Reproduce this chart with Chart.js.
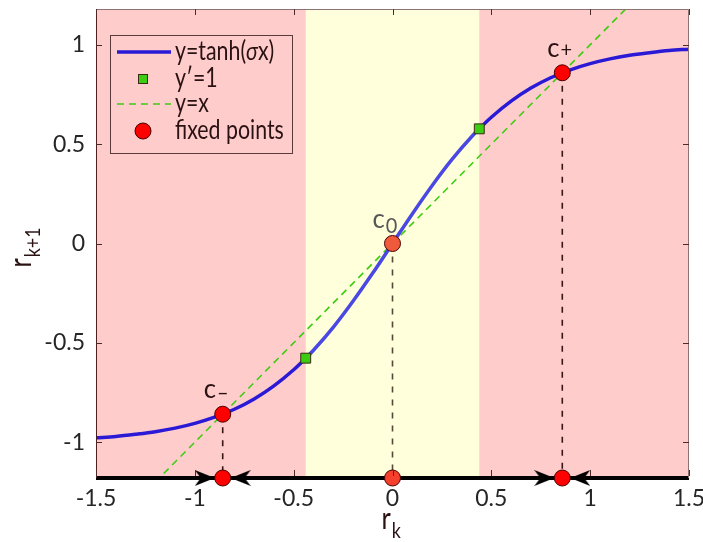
<!DOCTYPE html>
<html>
<head>
<meta charset="utf-8">
<script src="https://cdn.jsdelivr.net/npm/chart.js@4.4.0/dist/chart.umd.min.js"></script>
<style>
  html, body { margin: 0; padding: 0; background: #fff; }
</style>
</head>
<body>
<canvas id="mapChart" width="703" height="542"></canvas>
<script>
// values
const curveX = [-1.5, -1.4, -1.3, -1.2, -1.1, -1.0, -0.9, -0.8, -0.7, -0.6, -0.5, -0.439, -0.4, -0.3, -0.2, -0.1,
  0, 0.1, 0.2, 0.3, 0.4, 0.439, 0.5, 0.6, 0.7, 0.8, 0.9, 1.0, 1.1, 1.2, 1.3, 1.4, 1.5];
const curveY = [-0.978, -0.971, -0.960, -0.947, -0.929, -0.905, -0.874, -0.834, -0.782, -0.716, -0.635, -0.577,
  -0.537, -0.422, -0.291, -0.149, 0, 0.149, 0.291, 0.422, 0.537, 0.577, 0.635, 0.716, 0.782, 0.834, 0.874,
  0.905, 0.929, 0.947, 0.960, 0.971, 0.978];
const slopeX = [-0.439, 0.439];
const slopeY = [-0.577, 0.577];
const identityX = [-1.5, 1.5];
const identityY = [-1.5, 1.5];
const fixedX = [-0.859, 0, 0.859];
const fixedY = [-0.859, 0, 0.859];
const fixedNames = ["–", "0", "+"];
const arrowRightX = [-0.95, 0.768];
const arrowLeftX = [-0.768, 0.95];
const stableEdges = [-0.439, 0.439];
const xTicks = [-1.5, -1, -0.5, 0, 0.5, 1, 1.5];
const yTicks = [-1, -0.5, 0, 0.5, 1];
const yMin = -1.18, yMax = 1.18;

const FONT = "Lato, 'Open Sans', sans-serif";
const TEXT = "#2a1212";
const RED = "#ff0000";
const MIDRED = "#f05a3c";
const GREEN = "#3ccc10";
const BLUE = "#2a1ad6";
const MIDBLUE = "#4a48e2";

Chart.defaults.font.family = FONT;

function pts(xv, yv) {
  return xv.map((x, i) => ({ x: x, y: Array.isArray(yv) ? yv[i] : yv }));
}

function inBand(x) {
  return x >= stableEdges[0] - 1e-6 && x <= stableEdges[1] + 1e-6;
}

// concave arrow head, pointing right
const arrowImg = document.createElement("canvas");
arrowImg.width = 20;
arrowImg.height = 16;
(function () {
  const g = arrowImg.getContext("2d");
  g.fillStyle = "#000";
  g.beginPath();
  g.moveTo(20, 8);
  g.lineTo(0, 0);
  g.lineTo(6, 8);
  g.lineTo(0, 16);
  g.closePath();
  g.fill();
})();

const datasets = [];
fixedX.forEach((x, i) => {
  datasets.push({
    label: "guide" + i,
    data: [{ x: x, y: fixedY[i] }, { x: x, y: yMin }],
    showLine: true,
    borderColor: inBand(x) ? "#55483a" : "#3a1515",
    borderWidth: 1.6,
    borderDash: [6, 7],
    pointRadius: 0,
    order: 9,
  });
});
datasets.push(
  {
    label: "y=x",
    data: pts(identityX, identityY),
    showLine: true,
    borderColor: GREEN,
    borderWidth: 1.6,
    borderDash: [7, 5],
    pointRadius: 0,
    order: 8,
  },
  {
    label: "y=tanh(σx)",
    data: pts(curveX, curveY),
    showLine: true,
    borderColor: BLUE,
    borderWidth: 3.5,
    cubicInterpolationMode: "monotone",
    pointRadius: 0,
    segment: {
      borderColor: c => (inBand(c.p0.parsed.x) && inBand(c.p1.parsed.x) ? MIDBLUE : BLUE),
    },
    order: 7,
  },
  {
    label: "y′=1",
    data: pts(slopeX, slopeY),
    pointStyle: "rect",
    pointRadius: 7,
    backgroundColor: GREEN,
    borderColor: "#3a2a1a",
    borderWidth: 1,
    order: 6,
  },
  {
    label: "axis",
    data: pts(identityX, yMin),
    showLine: true,
    borderColor: "#000",
    borderWidth: 4,
    pointRadius: 0,
    clip: false,
    order: 5,
  },
  {
    label: "arrowsRight",
    data: pts(arrowRightX, yMin),
    pointStyle: arrowImg,
    pointRotation: 0,
    clip: false,
    order: 4,
  },
  {
    label: "arrowsLeft",
    data: pts(arrowLeftX, yMin),
    pointStyle: arrowImg,
    pointRotation: 180,
    clip: false,
    order: 4,
  },
  {
    label: "fixedBottom",
    data: pts(fixedX, yMin),
    pointRadius: 8,
    backgroundColor: fixedX.map(x => (inBand(x) ? "#f5402e" : RED)),
    borderColor: "#4a0000",
    borderWidth: 1,
    clip: false,
    order: 3,
  },
  {
    label: "fixed points",
    data: pts(fixedX, fixedY),
    pointRadius: 8,
    backgroundColor: fixedX.map(x => (inBand(x) ? MIDRED : RED)),
    borderColor: "#4a0000",
    borderWidth: 1,
    order: 2,
  }
);

// narrow text: the figure uses a condensed face
function txt(ctx, s, x, y, font, sx) {
  ctx.save();
  ctx.font = font;
  ctx.translate(x, y);
  ctx.scale(sx, 1);
  ctx.fillText(s, 0, 0);
  const w = ctx.measureText(s).width * sx;
  ctx.restore();
  return w;
}

function drawSub(ctx, main, sub, x, y, mainSize, subSize, drop, color, sx) {
  ctx.fillStyle = color;
  ctx.textAlign = "left";
  ctx.textBaseline = "alphabetic";
  const w = txt(ctx, main, x, y, mainSize + "px " + FONT, sx);
  txt(ctx, sub, x + w + 1, y + drop, subSize + "px " + FONT, sx);
}

const regionsPlugin = {
  id: "regions",
  beforeDatasetsDraw(chart) {
    const { ctx, chartArea: a, scales: { x } } = chart;
    ctx.save();
    ctx.fillStyle = "#ffcccc";
    ctx.fillRect(a.left, a.top, a.right - a.left, a.bottom - a.top);
    const l = x.getPixelForValue(stableEdges[0]);
    const r = x.getPixelForValue(stableEdges[1]);
    ctx.fillStyle = "#ffffdc";
    ctx.fillRect(l, a.top, r - l, a.bottom - a.top);
    ctx.restore();
  },
  afterDatasetsDraw(chart) {
    const { ctx, chartArea: a, scales: { x, y } } = chart;
    ctx.save();

    // fixed point names
    const offs = [[-19, -16, 2], [-20, -16, 5], [-15, -16, 0]];
    fixedX.forEach((fx, i) => {
      const px = x.getPixelForValue(fx) + offs[i][0];
      const py = y.getPixelForValue(fixedY[i]) + offs[i][1];
      drawSub(ctx, "c", fixedNames[i], px, py, 27, 21, offs[i][2], i === 1 ? "#575757" : TEXT, 0.95);
    });

    // frame
    ctx.lineWidth = 1;
    ctx.strokeStyle = "#8c7272";
    ctx.beginPath();
    ctx.moveTo(a.left, a.top + 0.5);
    ctx.lineTo(a.right - 0.5, a.top + 0.5);
    ctx.lineTo(a.right - 0.5, a.bottom);
    ctx.stroke();
    ctx.strokeStyle = "#4d1f1f";
    ctx.beginPath();
    ctx.moveTo(a.left + 0.5, a.top);
    ctx.lineTo(a.left + 0.5, a.bottom);
    ctx.stroke();

    // inner ticks
    ctx.strokeStyle = "#4d2a2a";
    ctx.beginPath();
    yTicks.forEach(v => {
      const py = Math.round(y.getPixelForValue(v)) + 0.5;
      ctx.moveTo(a.left, py); ctx.lineTo(a.left + 6, py);
      ctx.moveTo(a.right, py); ctx.lineTo(a.right - 6, py);
    });
    xTicks.forEach(v => {
      const px = Math.round(x.getPixelForValue(v)) + 0.5;
      ctx.moveTo(px, a.top); ctx.lineTo(px, a.top + 6);
      ctx.moveTo(px, a.bottom - 2); ctx.lineTo(px, a.bottom - 8);
    });
    ctx.stroke();

    // legend
    const lx = a.left + 14, ly = a.top + 26;
    ctx.fillStyle = "#ffcccc";
    ctx.fillRect(lx, ly, 182, 118);
    ctx.strokeStyle = "#5a3a3a";
    ctx.strokeRect(lx + 0.5, ly + 0.5, 182, 118);
    const rows = [ly + 17, ly + 44, ly + 69, ly + 96];
    ctx.lineWidth = 3.5;
    ctx.strokeStyle = BLUE;
    ctx.beginPath(); ctx.moveTo(lx + 7, rows[0]); ctx.lineTo(lx + 61, rows[0]); ctx.stroke();
    ctx.lineWidth = 1;
    ctx.fillStyle = GREEN;
    ctx.strokeStyle = "#3a2a1a";
    ctx.fillRect(lx + 28.5, rows[1] - 4.5, 9, 9);
    ctx.strokeRect(lx + 28.5, rows[1] - 4.5, 9, 9);
    ctx.lineWidth = 1.6;
    ctx.strokeStyle = GREEN;
    ctx.setLineDash([7, 5]);
    ctx.beginPath(); ctx.moveTo(lx + 7, rows[2]); ctx.lineTo(lx + 61, rows[2]); ctx.stroke();
    ctx.setLineDash([]);
    ctx.lineWidth = 1;
    ctx.fillStyle = RED;
    ctx.strokeStyle = "#4a0000";
    ctx.beginPath(); ctx.arc(lx + 33, rows[3], 8, 0, Math.PI * 2); ctx.fill(); ctx.stroke();

    ctx.fillStyle = TEXT;
    ctx.textBaseline = "middle";
    ctx.textAlign = "left";
    const F = "26px " + FONT, SX = 0.82;
    const tx = lx + 65;
    let w = txt(ctx, "y=tanh(", tx, rows[0], F, SX);
    w += txt(ctx, "σ", tx + w, rows[0], "italic " + F, SX);
    txt(ctx, "x)", tx + w, rows[0], F, SX);
    txt(ctx, "y′=1", tx, rows[1], F, SX);
    txt(ctx, "y=x", tx, rows[2], F, SX);
    txt(ctx, "fixed points", tx, rows[3], F, SX);

    ctx.restore();
  },
  afterDraw(chart) {
    const { ctx, chartArea: a } = chart;
    ctx.save();
    const cx = (a.left + a.right) / 2;
    drawSub(ctx, "r", "k", cx - 11, 529, 30, 21, 9, TEXT, 0.85);
    ctx.translate(31, (a.top + a.bottom) / 2 + 24);
    ctx.rotate(-Math.PI / 2);
    drawSub(ctx, "r", "k+1", 0, 0, 30, 21, 9, TEXT, 0.85);
    ctx.restore();
  },
};

new Chart(document.getElementById("mapChart"), {
  type: "scatter",
  data: { datasets: datasets },
  options: {
    responsive: false,
    animation: false,
    devicePixelRatio: 1,
    layout: { padding: { left: 0, right: 14, top: 9, bottom: 0 } },
    plugins: { legend: { display: false }, tooltip: { enabled: false } },
    scales: {
      x: {
        type: "linear",
        min: -1.5,
        max: 1.5,
        grid: { display: false, drawTicks: false },
        border: { display: false },
        afterBuildTicks: s => { s.ticks = xTicks.map(v => ({ value: v })); },
        afterFit: s => { s.height = 64; s.paddingLeft = 0; s.paddingRight = 0; },
        ticks: { color: "#262626", font: { size: 23 }, padding: 7, maxRotation: 0, autoSkip: false,
          callback: v => String(v) },
      },
      y: {
        type: "linear",
        min: yMin,
        max: yMax,
        grid: { display: false, drawTicks: false },
        border: { display: false },
        afterBuildTicks: s => { s.ticks = yTicks.map(v => ({ value: v })); },
        afterFit: s => { s.width = 96; s.paddingTop = 0; s.paddingBottom = 0; },
        ticks: { color: "#262626", font: { size: 23 }, padding: 11, autoSkip: false,
          callback: v => String(v) },
      },
    },
  },
  plugins: [regionsPlugin],
});
</script>
</body>
</html>
